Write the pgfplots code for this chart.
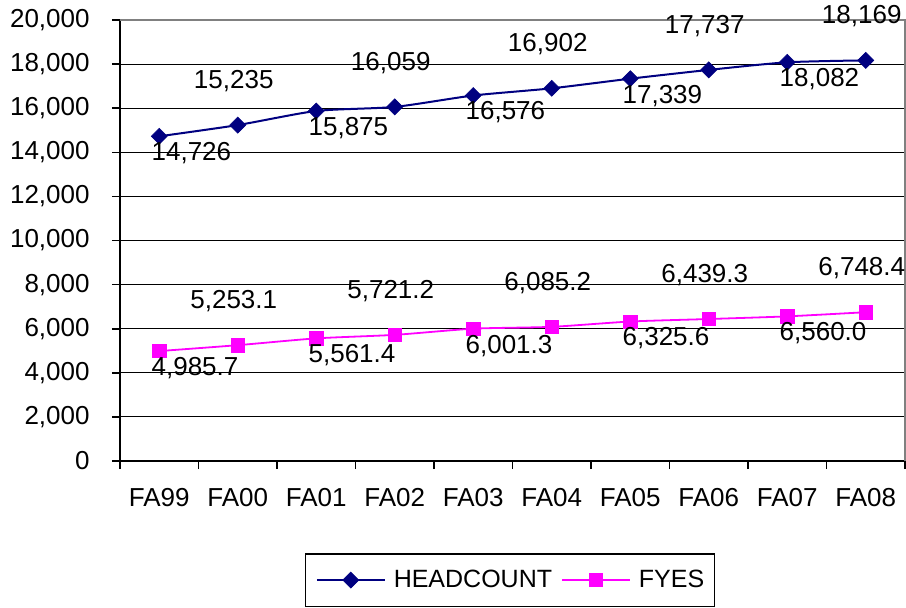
\documentclass[border=0pt]{standalone}
\usepackage{pgfplots}
\pgfplotsset{compat=1.18}
\usepackage{pgfplotstable}
\usepackage{fontspec}
\setmainfont{Liberation Sans}
\definecolor{hcblue}{RGB}{0,0,128}
\definecolor{fymag}{RGB}{255,0,255}
\newcommand{\chartfont}{\fontsize{13}{15.5}\selectfont}
\newcommand{\legfont}{\fontsize{12.5}{15}\selectfont}

\pgfplotstableread{
x hc hclab fy fylab
0 14726 14,726 4985.7 4,985.7
1 15235 15,235 5253.1 5,253.1
2 15875 15,875 5561.4 5,561.4
3 16059 16,059 5721.2 5,721.2
4 16576 16,576 6001.3 6,001.3
5 16902 16,902 6085.2 6,085.2
6 17339 17,339 6325.6 6,325.6
7 17737 17,737 6439.3 6,439.3
8 18082 18,082 6560.0 6,560.0
9 18169 18,169 6748.4 6,748.4
}\data

\begin{document}
\begin{tikzpicture}
\begin{axis}[
  at={(0,0)}, anchor=south west,
  scale only axis,
  width=392.5pt, height=220.5pt,
  xmin=-0.5, xmax=9.5,
  ymin=0, ymax=20000,
  xtick={-0.5,0.5,...,9.5},
  x tick label as interval,
  xticklabels={FA99,FA00,FA01,FA02,FA03,FA04,FA05,FA06,FA07,FA08},
  ytick={0,2000,...,20000},
  axis x line*=bottom, axis y line*=left,
  axis line style={black, line width=1pt, -},
  tick align=outside,
  major tick length=4pt,
  tick style={black, line width=0.8pt},
  ymajorgrids,
  major grid style={black, line width=0.5pt},
  tick label style={font=\chartfont, inner sep=0pt},
  /pgf/number format/assume math mode=true,
  yticklabel style={/pgf/number format/1000 sep={,}},
  scaled y ticks=false,
  yticklabel shift=11pt,
  xticklabel shift=9.5pt,
  clip=false,
  legend columns=2,
  legend style={at={(0.4968,-0.27)}, anchor=center, draw=black, line width=0.7pt,
    font=\legfont, inner xsep=5pt, inner ysep=8pt,
    nodes={inner sep=0pt},
    /tikz/every odd column/.append style={column sep=4pt},
    /tikz/every even column/.append style={column sep=4.5pt}},
  legend image code/.code={\draw[mark repeat=2, mark phase=2, #1] plot coordinates {(0pt,0pt) (17pt,0pt) (34pt,0pt)};},
]
\draw[gray, line width=0.6pt] (rel axis cs:0,1) -- (rel axis cs:1,1) -- (rel axis cs:1,0);

\addplot[hcblue, line width=1pt, smooth, tension=0.4, mark=square*, mark size=2.83pt,
  mark options={rotate=45, fill=hcblue, draw=hcblue, line width=0.3pt}]
  table[x=x, y=hc]{\data};
\addlegendentry{HEADCOUNT}
\addplot[fymag, line width=0.9pt, smooth, tension=0.4, mark=square*, mark size=3.33pt,
  mark options={fill=fymag, draw=fymag, line width=0.3pt}]
  table[x=x, y=fy]{\data};
\addlegendentry{FYES}

% data labels: even indices below-right, odd indices above
\addplot[draw=none, forget plot, nodes near coords, point meta=explicit symbolic,
  nodes near coords style={font=\chartfont, text=black, anchor=west, inner sep=0pt, xshift=-4pt, yshift=-8.5pt},
  x filter/.expression={mod(\coordindex,2)==0 ? x : nan}]
  table[x=x, y=hc, meta=hclab]{\data};
\addplot[draw=none, forget plot, nodes near coords, point meta=explicit symbolic,
  nodes near coords style={font=\chartfont, text=black, anchor=center, inner sep=0pt, xshift=-2pt, yshift=22pt},
  x filter/.expression={mod(\coordindex,2)==1 ? x : nan}]
  table[x=x, y=hc, meta=hclab]{\data};
\addplot[draw=none, forget plot, nodes near coords, point meta=explicit symbolic,
  nodes near coords style={font=\chartfont, text=black, anchor=west, inner sep=0pt, xshift=-4pt, yshift=-8.5pt},
  x filter/.expression={mod(\coordindex,2)==0 ? x : nan}]
  table[x=x, y=fy, meta=fylab]{\data};
\addplot[draw=none, forget plot, nodes near coords, point meta=explicit symbolic,
  nodes near coords style={font=\chartfont, text=black, anchor=center, inner sep=0pt, xshift=-2pt, yshift=22pt},
  x filter/.expression={mod(\coordindex,2)==1 ? x : nan}]
  table[x=x, y=fy, meta=fylab]{\data};
\end{axis}
\pgfresetboundingbox
\path[use as bounding box] (-60pt,-73pt) rectangle (393pt,230.5pt);
\end{tikzpicture}
\end{document}
